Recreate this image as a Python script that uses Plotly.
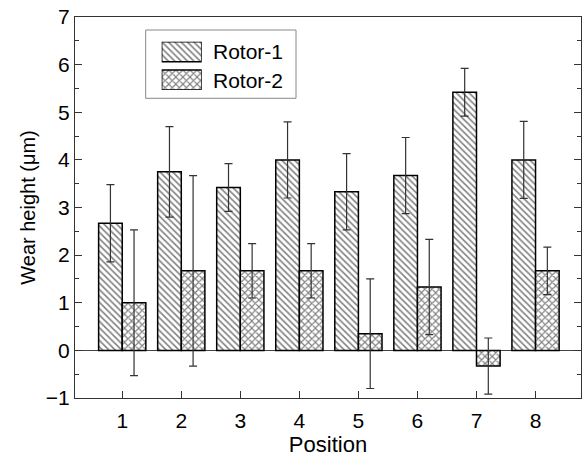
import plotly.graph_objects as go

positions = [1, 2, 3, 4, 5, 6, 7, 8]
rotor1 = [2.67, 3.75, 3.42, 4.0, 3.33, 3.67, 5.42, 4.0]
rotor1_err = [0.81, 0.95, 0.50, 0.80, 0.80, 0.80, 0.50, 0.81]
rotor2 = [1.0, 1.67, 1.67, 1.67, 0.35, 1.33, -0.33, 1.67]
rotor2_err = [1.53, 2.0, 0.57, 0.57, 1.15, 1.0, 0.59, 0.50]
series_names = ["Rotor-1", "Rotor-2"]
y_ticks = [-1, 0, 1, 2, 3, 4, 5, 6, 7]
y_ticktext = ["\u22121", "0", "1", "2", "3", "4", "5", "6", "7"]

FONT = "Arial, Liberation Sans, sans-serif"
patterns = ["\\", "x"]
pat_sizes = [4.5, 5]
pat_solidity = [0.35, 0.4]

def pat(i):
    return dict(shape=patterns[i], fgcolor="black", bgcolor="white",
                size=pat_sizes[i], solidity=pat_solidity[i])

fig = go.Figure()
for i, (name, vals, errs) in enumerate([(series_names[0], rotor1, rotor1_err),
                                        (series_names[1], rotor2, rotor2_err)]):
    fig.add_trace(go.Bar(
        x=positions, y=vals, name=name, showlegend=False,
        marker=dict(color="white", pattern=pat(i), line=dict(color="black", width=1.5)),
        error_y=dict(type="data", array=errs, color="#333333", thickness=1.2, width=4),
    ))

# custom legend swatches (large rectangles like the reference)
sw_base = [0.586, 0.0]
sw_h = [0.414, 0.414]
for i, name in enumerate(series_names):
    fig.add_trace(go.Bar(
        x=[0], y=[sw_h[i]], base=[sw_base[i]], width=[1], offset=[-0.5], offsetgroup="sw",
        showlegend=False, xaxis="x2", yaxis="y2", hoverinfo="skip",
        marker=dict(color="white", pattern=pat(i), line=dict(color="black", width=1.5)),
    ))

ml, mr, mt, mb = 75, 1, 17, 59
W, H = 582, 457
pw, ph = W - ml - mr, H - mt - mb

def px_x(x):
    return (x - ml) / pw

def px_y(y):
    return (H - mb - y) / ph

fig.update_layout(
    width=W, height=H,
    margin=dict(l=ml, r=mr, t=mt, b=mb, autoexpand=False),
    paper_bgcolor="white", plot_bgcolor="white",
    font=dict(family=FONT, size=20, color="black"),
    barmode="group", bargap=0.2, bargroupgap=0,
    xaxis=dict(
        range=[0.2, 8.77], tickvals=positions, ticks="inside", ticklen=7, tickcolor="#333",
        showline=True, linecolor="#333", linewidth=1, mirror=True, showgrid=False, zeroline=False,
        title=dict(text="Position", standoff=3, font=dict(size=22)),
        tickfont=dict(size=21), automargin=False, ticklabelstandoff=4,
    ),
    yaxis=dict(
        range=[-1, 7], tickvals=y_ticks, ticktext=y_ticktext, ticks="inside", ticklen=7,
        tickcolor="#333", showline=True, linecolor="#333", linewidth=1, mirror="ticks",
        showgrid=False, zeroline=True, zerolinecolor="#444", zerolinewidth=1,
        minor=dict(dtick=0.5, ticks="inside", ticklen=4, tickcolor="#333"),
        title=dict(text="Wear height (\u03bcm)", standoff=4, font=dict(size=20)),
        tickfont=dict(size=21), automargin=False,
    ),
    xaxis2=dict(domain=[px_x(161.7), px_x(201.7)], anchor="y2", range=[-0.5, 0.5], visible=False),
    yaxis2=dict(domain=[px_y(90), px_y(41.7)], anchor="x2", range=[0, 1], visible=False),
    shapes=[dict(type="rect", xref="paper", yref="paper",
                 x0=px_x(145.7), x1=px_x(296), y0=px_y(98.3), y1=px_y(30),
                 line=dict(color="#888", width=1), fillcolor="rgba(0,0,0,0)", layer="below")],
    annotations=[
        dict(text=series_names[0], xref="paper", yref="paper", x=px_x(211), y=px_y(51.7),
             xanchor="left", yanchor="middle", showarrow=False, font=dict(size=21)),
        dict(text=series_names[1], xref="paper", yref="paper", x=px_x(211), y=px_y(80),
             xanchor="left", yanchor="middle", showarrow=False, font=dict(size=21)),
    ],
)

fig.write_html("out.html", config=dict(displayModeBar=False),
               post_script="document.body.style.margin='0';document.body.style.overflow='hidden';")
